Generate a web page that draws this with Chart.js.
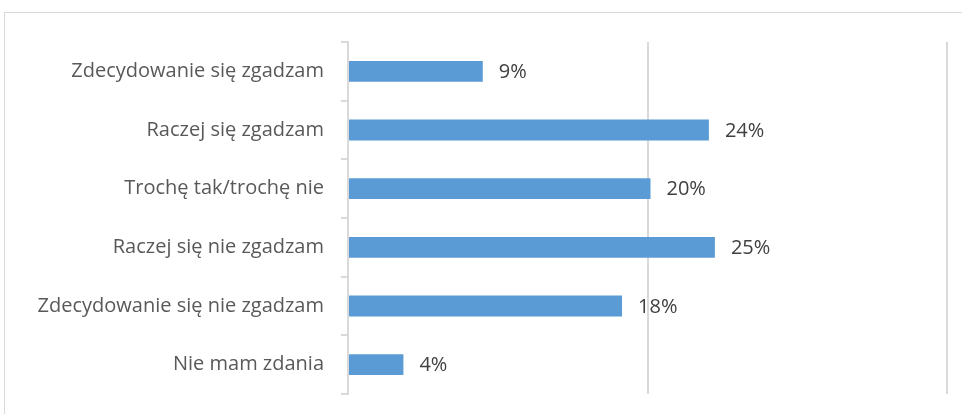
<!DOCTYPE html>
<html>
<head>
<meta charset="utf-8">
<script src="https://cdn.jsdelivr.net/npm/chart.js@4/dist/chart.umd.min.js"></script>
<style>
  html, body { margin: 0; padding: 0; background: #ffffff; }
  #wrap { position: relative; width: 962px; height: 414px; overflow: hidden; }
  #frame { position: absolute; left: 4px; top: 12px; width: 1000px; height: 500px; border: 1px solid #d9d9d9; box-sizing: border-box; }
  canvas { position: absolute; left: 0; top: 0; }
</style>
</head>
<body>
<div id="wrap">
  <div id="frame"></div>
  <canvas id="c" width="962" height="414"></canvas>
</div>
<script>
const categories = [
  "Zdecydowanie się zgadzam",
  "Raczej się zgadzam",
  "Trochę tak/trochę nie",
  "Raczej się nie zgadzam",
  "Zdecydowanie się nie zgadzam",
  "Nie mam zdania"
];
const values = [9.0, 24.1, 20.2, 24.5, 18.3, 3.7];
const labels = ["9%", "24%", "20%", "25%", "18%", "4%"];
const xTicks = [0, 20, 40];

const FONT = "'Open Sans', Lato, sans-serif";

const valueLabels = {
  id: 'valueLabels',
  afterDatasetsDraw(chart) {
    const ctx = chart.ctx;
    const meta = chart.getDatasetMeta(0);
    ctx.save();
    ctx.font = "20px " + FONT;
    ctx.fillStyle = "#404040";
    ctx.textAlign = "left";
    ctx.textBaseline = "middle";
    meta.data.forEach((bar, i) => {
      ctx.fillText(labels[i], bar.x + 16, bar.y + 1);
    });
    ctx.restore();
  }
};

new Chart(document.getElementById('c'), {
  type: 'bar',
  data: {
    labels: categories,
    datasets: [{
      data: values,
      backgroundColor: '#5B9BD5',
      borderWidth: 0,
      categoryPercentage: 0.355,
      barPercentage: 1.0
    }]
  },
  options: {
    indexAxis: 'y',
    responsive: false,
    animation: false,
    devicePixelRatio: 1,
    layout: { padding: { left: 0, right: 15, top: 42, bottom: 20 } },
    plugins: { legend: { display: false }, tooltip: { enabled: false } },
    scales: {
      x: {
        min: 0, max: 40,
        afterBuildTicks: (s) => { s.ticks = xTicks.map(v => ({ value: v })); },
        ticks: { display: false },
        grid: { color: '#d9d9d9', lineWidth: 2, drawTicks: false },
        border: { display: false },
        afterFit: (s) => { s.height = 0; }
      },
      y: {
        offset: true,
        grid: { offset: true, drawOnChartArea: false, drawTicks: true, tickLength: 7, color: '#d9d9d9', lineWidth: 2 },
        border: { display: true, color: '#d9d9d9', width: 2 },
        ticks: { color: '#595959', font: { family: FONT, size: 20 }, padding: 17, autoSkip: false },
        afterFit: (s) => { s.width = 348; s.paddingTop = 0; s.paddingBottom = 0; }
      }
    }
  },
  plugins: [valueLabels]
});
</script>
</body>
</html>
